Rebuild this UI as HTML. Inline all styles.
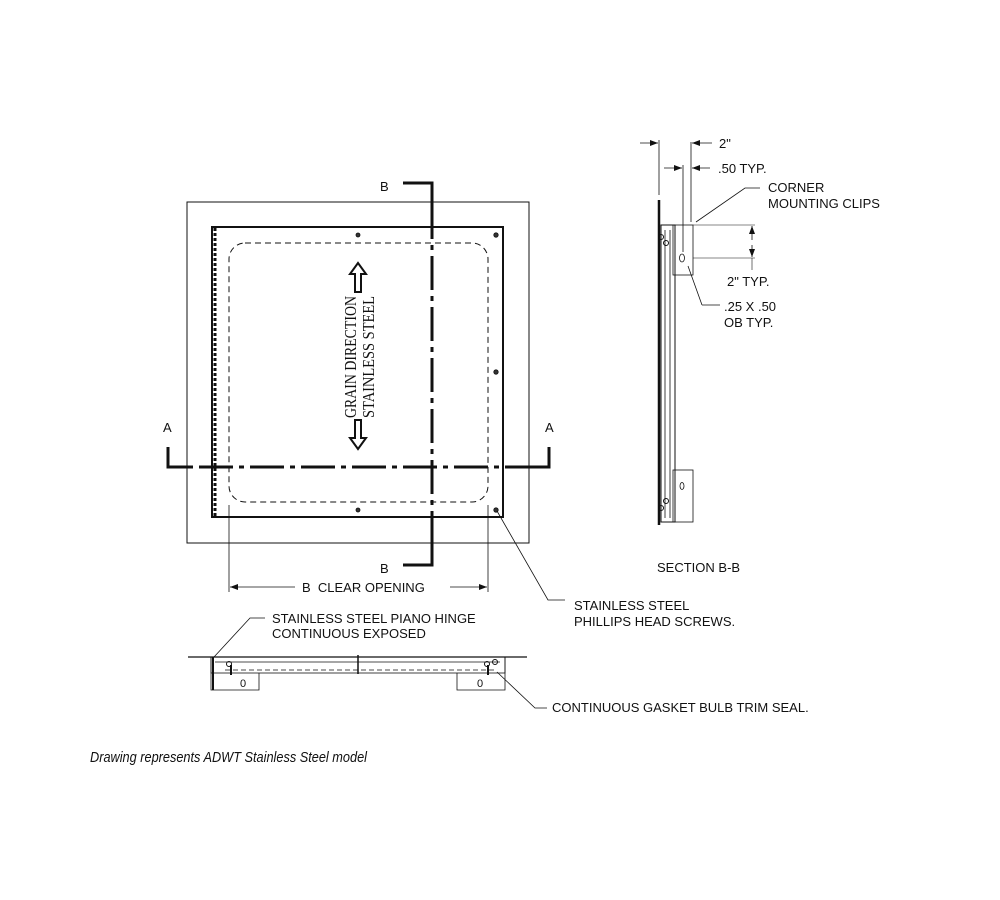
<!DOCTYPE html>
<html><head><meta charset="utf-8"><style>
html,body{margin:0;padding:0;background:#fff;width:1000px;height:900px;overflow:hidden}
svg{display:block}
text{font-family:"Liberation Sans",sans-serif;font-size:13px;fill:#111}
</style></head><body>
<svg width="1000" height="900" viewBox="0 0 1000 900" xmlns="http://www.w3.org/2000/svg">
<defs>
<marker id="ar" markerWidth="8" markerHeight="6" refX="8" refY="3" orient="auto" markerUnits="userSpaceOnUse"><path d="M0,0 L8,3 L0,6 z" fill="#111"/></marker>
</defs>
<g stroke="#111" fill="none">
<rect x="187" y="202" width="342" height="341" stroke-width="1"/>
<rect x="212" y="227" width="291" height="290" stroke-width="2"/>
<line x1="215" y1="228" x2="215" y2="516" stroke-width="3" stroke-dasharray="3,2"/>
<rect x="229" y="243" width="259" height="259" rx="16" stroke-width="1" stroke-dasharray="6,4"/>
<g fill="#333" stroke-width="0.8"><circle cx="358" cy="235" r="2"/><circle cx="496" cy="235" r="2.2"/><circle cx="496" cy="372" r="2.2"/><circle cx="358" cy="510" r="2"/><circle cx="496" cy="510" r="2.2"/></g>
<path d="M403,183 H432 V565 H403" stroke-width="3" stroke-dasharray="34,6,5,6" fill="none"/>
<path d="M403,183 H432 V210" stroke-width="3"/>
<path d="M403,565 H432 V540" stroke-width="3"/>
<path d="M168,447 V467 H549 V447" stroke-width="3" stroke-dasharray="34,6,5,6"/>
<path d="M168,447 V467 H190" stroke-width="3"/>
<path d="M549,447 V467 H525" stroke-width="3"/>
<path d="M358,263 L366,274 H361 V292 H355 V274 H350 Z" stroke-width="2" fill="#fff"/>
<path d="M358,449 L366,438 H361 V420 H355 V438 H350 Z" stroke-width="2" fill="#fff"/>
<line x1="229" y1="505" x2="229" y2="592" stroke-width="0.8"/>
<line x1="488" y1="505" x2="488" y2="592" stroke-width="0.8"/>
<line x1="295" y1="587" x2="230" y2="587" stroke-width="0.8" marker-end="url(#ar)"/>
<line x1="450" y1="587" x2="487" y2="587" stroke-width="0.8" marker-end="url(#ar)"/>
<path d="M497,511 L548,600 H565" stroke-width="0.8"/>
<line x1="659" y1="200" x2="659" y2="525" stroke-width="2.5"/>
<line x1="659" y1="140" x2="659" y2="195" stroke-width="0.8"/>
<line x1="691" y1="142" x2="691" y2="222" stroke-width="0.8"/>
<line x1="683" y1="165" x2="683" y2="252" stroke-width="0.8"/>
<line x1="640" y1="143" x2="658" y2="143" stroke-width="0.8" marker-end="url(#ar)"/>
<line x1="712" y1="143" x2="692" y2="143" stroke-width="0.8" marker-end="url(#ar)"/>
<line x1="664" y1="168" x2="682" y2="168" stroke-width="0.8" marker-end="url(#ar)"/>
<line x1="710" y1="168" x2="692" y2="168" stroke-width="0.8" marker-end="url(#ar)"/>
<rect x="661" y="225" width="14" height="297" stroke-width="1"/>
<line x1="665" y1="230" x2="665" y2="518" stroke-width="0.8"/>
<line x1="670" y1="230" x2="670" y2="518" stroke-width="0.8"/>
<rect x="673" y="225" width="20" height="50" stroke-width="0.8"/>
<rect x="673" y="470" width="20" height="52" stroke-width="0.8"/>
<ellipse cx="682" cy="258" rx="2.5" ry="4" stroke-width="0.8"/>
<ellipse cx="682" cy="486" rx="2" ry="3.5" stroke-width="0.8"/>
<g stroke-width="1"><circle cx="661" cy="237" r="2.5"/><circle cx="666" cy="243" r="2.5"/><circle cx="661" cy="508" r="2.5"/><circle cx="666" cy="501" r="2.5"/></g>
<path d="M696,222 L745,188 H760" stroke-width="0.8"/>
<line x1="693" y1="225" x2="755" y2="225" stroke-width="0.6"/>
<line x1="693" y1="258" x2="755" y2="258" stroke-width="0.6"/>
<line x1="752" y1="240" x2="752" y2="226" stroke-width="0.8" marker-end="url(#ar)"/>
<line x1="752" y1="245" x2="752" y2="257" stroke-width="0.8" marker-end="url(#ar)"/>
<line x1="752" y1="258" x2="752" y2="270" stroke-width="0.6"/>
<path d="M702,305 L688,266 M702,305 H720" stroke-width="0.8"/>
<line x1="188" y1="657" x2="527" y2="657" stroke-width="1.2"/>
<rect x="211" y="657" width="294" height="16" stroke-width="0.8"/>
<line x1="215" y1="662" x2="500" y2="662" stroke-width="0.8"/>
<line x1="225" y1="670" x2="495" y2="670" stroke-width="0.8" stroke-dasharray="5,3"/>
<path d="M211,657 V690 H259 V673" stroke-width="0.8"/>
<path d="M457,673 V690 H505 V657" stroke-width="0.8"/>
<line x1="213" y1="657" x2="213" y2="690" stroke-width="2"/>
<line x1="358" y1="655" x2="358" y2="674" stroke-width="1.5"/>
<g stroke-width="1"><circle cx="229" cy="664" r="2.5"/><circle cx="487" cy="664" r="2.5"/><circle cx="495" cy="662" r="2.5"/></g>
<line x1="231" y1="665" x2="231" y2="675" stroke-width="2"/>
<line x1="488" y1="665" x2="488" y2="675" stroke-width="2"/>
<path d="M214,657 L250,618 H265" stroke-width="0.8"/>
<path d="M497,672 L535,708 H547" stroke-width="0.8"/>
</g>
<text x="380" y="191">B</text>
<text x="380" y="573">B</text>
<text x="163" y="432">A</text>
<text x="545" y="432">A</text>
<text transform="translate(356,418) rotate(-90)" style="font-family:'Liberation Serif',serif;font-size:17px" textLength="122" lengthAdjust="spacingAndGlyphs">GRAIN DIRECTION</text>
<text transform="translate(374,418) rotate(-90)" style="font-family:'Liberation Serif',serif;font-size:17px" textLength="122" lengthAdjust="spacingAndGlyphs">STAINLESS STEEL</text>
<text x="302" y="592">B&#160;&#160;CLEAR OPENING</text>
<text x="574" y="610">STAINLESS STEEL</text>
<text x="574" y="626">PHILLIPS HEAD SCREWS.</text>
<text x="719" y="148">2"</text>
<text x="718" y="173">.50 TYP.</text>
<text x="768" y="192">CORNER</text>
<text x="768" y="208">MOUNTING CLIPS</text>
<text x="727" y="286">2" TYP.</text>
<text x="724" y="311">.25 X .50</text>
<text x="724" y="327">OB TYP.</text>
<text x="657" y="572">SECTION B-B</text>
<text x="272" y="623">STAINLESS STEEL PIANO HINGE</text>
<text x="272" y="638">CONTINUOUS EXPOSED</text>
<text x="552" y="712">CONTINUOUS GASKET BULB TRIM SEAL.</text>
<text x="240" y="687" style="font-size:11px">0</text>
<text x="477" y="687" style="font-size:11px">0</text>
<text x="90" y="762" style="font-style:italic;font-size:15px" textLength="277" lengthAdjust="spacingAndGlyphs">Drawing represents ADWT Stainless Steel model</text>
</svg>
</body></html>
